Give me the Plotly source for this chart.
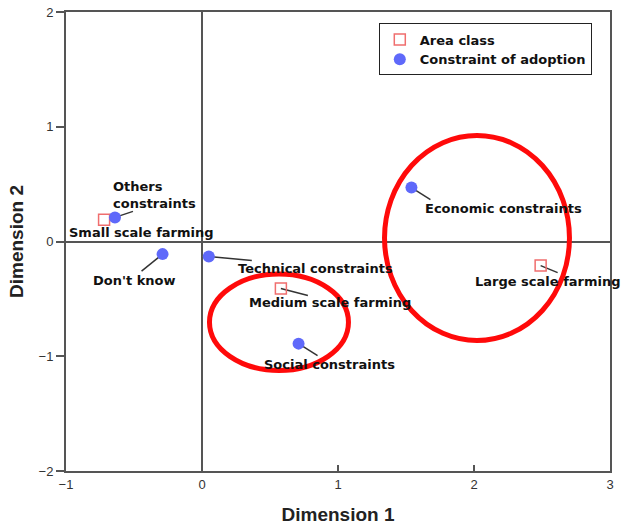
import plotly.graph_objects as go

# Row points (area class) on the two correspondence dimensions
area_labels = ["Small scale farming", "Medium scale farming", "Large scale farming"]
area_dim1 = [-0.72, 0.58, 2.49]
area_dim2 = [0.19, -0.41, -0.21]

# Column points (constraint of adoption)
constraint_labels = ["Others<br>constraints", "Don't know", "Technical constraints",
                     "Social constraints", "Economic constraints"]
constraint_dim1 = [-0.64, -0.29, 0.05, 0.71, 1.54]
constraint_dim2 = [0.21, -0.11, -0.13, -0.89, 0.47]

x_ticks = [-1, 0, 1, 2, 3]
y_ticks = [-2, -1, 0, 1, 2]

# Label placement in screen pixels: (text x-shift, text y-shift, leader dx, leader dy)
area_label_pos = [(-37, -13, None, None), (-34, -14, 27, 7), (-68, -16, 17, 7)]
constraint_label_pos = [(-4, 22, 18, -6), (-72, -26, -21, 17), (27, -12, 43, 4),
                        (-37, -21, 19, 12), (12, -21, 19, 12)]

# Highlight rings (data coordinates: x0, x1, y0, y1)
highlight_rings = [(1.342, 2.702, -0.863, 0.924), (0.055, 1.077, -1.124, -0.283)]

AREA_COLOR = "rgb(240,110,110)"
CONSTRAINT_COLOR = "rgb(95,105,250)"
LABEL_FONT = dict(family="DejaVu Sans", size=13, color="#111")

fig = go.Figure()
fig.add_trace(go.Scatter(
    x=area_dim1, y=area_dim2, mode="markers", name="<b>Area class</b>",
    marker=dict(symbol="square-open", size=11, color=AREA_COLOR, line=dict(width=1.5, color=AREA_COLOR)),
))
fig.add_trace(go.Scatter(
    x=constraint_dim1, y=constraint_dim2, mode="markers", name="<b>Constraint of adoption</b>",
    marker=dict(symbol="circle", size=12, color=CONSTRAINT_COLOR),
))

annotations = []
shapes = []


def place_labels(labels, xs, ys, positions):
    for lab, x, y, (xs_, ys_, dx, dy) in zip(labels, xs, ys, positions):
        annotations.append(dict(
            x=x, y=y, xref="x", yref="y", text=f"<b>{lab}</b>", showarrow=False,
            xanchor="left", yanchor="middle", align="left", xshift=xs_, yshift=ys_,
            font=LABEL_FONT,
        ))
        if dx is not None:
            shapes.append(dict(
                type="line", layer="below", xref="x", yref="y",
                xsizemode="pixel", xanchor=x, x0=0, x1=dx,
                ysizemode="pixel", yanchor=y, y0=0, y1=-dy,
                line=dict(color="#333", width=1.5),
            ))


place_labels(area_labels, area_dim1, area_dim2, area_label_pos)
place_labels(constraint_labels, constraint_dim1, constraint_dim2, constraint_label_pos)

for x0, x1, y0, y1 in highlight_rings:
    shapes.append(dict(type="circle", xref="x", yref="y", x0=x0, x1=x1, y0=y0, y1=y1,
                       line=dict(color="#ff0a0a", width=5), layer="above"))

axis_common = dict(
    showgrid=False, zeroline=True, zerolinecolor="#555", zerolinewidth=2,
    showline=True, mirror=True, linecolor="#555", linewidth=2,
    tickfont=dict(family="Liberation Sans", size=13, color="#333"),
    tickwidth=1.5, tickcolor="#555", automargin=False,
)

fig.update_layout(
    width=622, height=528,
    margin=dict(l=66, r=12, t=12, b=57, autoexpand=False),
    plot_bgcolor="white", paper_bgcolor="white",
    xaxis=dict(range=[-1, 3], tickvals=x_ticks, ticks="inside", ticklen=6, **axis_common,
               title=dict(text="<b>Dimension 1</b>", standoff=17,
                          font=dict(family="Liberation Sans", size=19, color="#222"))),
    yaxis=dict(range=[-2, 2], tickvals=y_ticks, ticks="outside", ticklen=8, **axis_common,
               title=dict(text="<b>Dimension 2</b>", standoff=10,
                          font=dict(family="Liberation Sans", size=19, color="#222"))),
    legend=dict(x=0.575, y=0.975, xanchor="left", yanchor="top",
                bgcolor="white", bordercolor="#222", borderwidth=1,
                font=dict(family="DejaVu Sans", size=13, color="#111"),
                itemwidth=30, tracegroupgap=0),
    showlegend=True,
    annotations=annotations,
    shapes=shapes,
)

fig.write_html("out.html")
